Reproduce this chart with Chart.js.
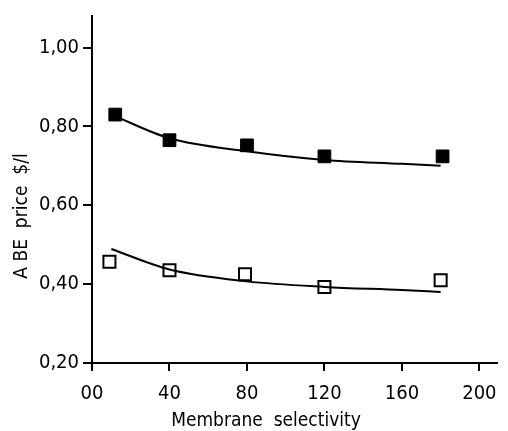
<!DOCTYPE html>
<html>
<head>
<meta charset="utf-8">
<script src="https://cdn.jsdelivr.net/npm/chart.js@4"></script>
<style>
  html, body { margin: 0; padding: 0; background: #fff; }
  #wrap { width: 508px; height: 431px; }
</style>
</head>
<body>
<div id="wrap"><canvas id="chart"></canvas></div>
<script>
// measured points (membrane selectivity vs ABE price)
const filledX = [12, 40, 80, 120, 181];
const filledY = [0.83, 0.765, 0.752, 0.724, 0.724];
const openX = [9, 40, 79, 120, 180];
const openY = [0.457, 0.435, 0.425, 0.393, 0.41];

// fitted curves
const filledCurveX = [10, 40, 80, 120, 160, 180];
const filledCurveY = [0.83, 0.77, 0.737, 0.715, 0.705, 0.70];
const openCurveX = [10, 40, 80, 120, 160, 180];
const openCurveY = [0.489, 0.437, 0.407, 0.393, 0.385, 0.38];

const xTicks = [0, 40, 80, 120, 160, 200];
const xTickLabels = ['00', '40', '80', '120', '160', '200'];
const yTicks = [0.2, 0.4, 0.6, 0.8, 1.0];
const yTickLabels = ['0,20', '0,40', '0,60', '0,80', '1,00'];

const xTitle = 'Membrane  selectivity';
const yTitle = 'A BE  price  $/l';

const FONT = "'DejaVu Sans Condensed', 'DejaVu Sans', sans-serif";

const pts = (xs, ys) => xs.map((x, i) => ({ x: x, y: ys[i] }));

// axis titles placed by hand, relative to the chart area
const axisTitles = {
  id: 'axisTitles',
  afterDraw(chart) {
    const { ctx, chartArea } = chart;
    ctx.save();
    ctx.fillStyle = '#000';
    ctx.font = '19px ' + FONT;
    ctx.textAlign = 'center';
    ctx.textBaseline = 'middle';
    ctx.fillText(xTitle, chartArea.left + 174, chartArea.bottom + 58);
    ctx.translate(chartArea.left - 70, chartArea.top + 200);
    ctx.rotate(-Math.PI / 2);
    ctx.fillText(yTitle, 0, 0);
    ctx.restore();
  }
};

new Chart(document.getElementById('chart'), {
  type: 'scatter',
  data: {
    datasets: [
      {
        data: pts(filledCurveX, filledCurveY),
        showLine: true, cubicInterpolationMode: 'monotone', pointRadius: 0,
        borderColor: '#000', borderWidth: 2
      },
      {
        data: pts(openCurveX, openCurveY),
        showLine: true, cubicInterpolationMode: 'monotone', pointRadius: 0,
        borderColor: '#000', borderWidth: 2
      },
      {
        data: pts(filledX, filledY),
        pointStyle: 'rect', pointRadius: 9,
        backgroundColor: '#000', borderColor: '#000', borderWidth: 1
      },
      {
        data: pts(openX, openY),
        pointStyle: 'rect', pointRadius: 8.5,
        backgroundColor: '#fff', borderColor: '#000', borderWidth: 2
      }
    ]
  },
  options: {
    responsive: true,
    maintainAspectRatio: false,
    animation: false,
    layout: { padding: { top: 13, right: 0, left: 0, bottom: 0 } },
    plugins: { legend: { display: false }, tooltip: { enabled: false } },
    scales: {
      x: {
        type: 'linear', min: 0, max: 209,
        afterBuildTicks: s => { s.ticks = xTicks.map(v => ({ value: v })); },
        afterFit: s => { s.height = 68; },
        grid: { drawOnChartArea: false, drawTicks: true, tickLength: 8, color: '#000', lineWidth: 2 },
        border: { display: true, color: '#000', width: 2 },
        ticks: {
          color: '#000', padding: 11, maxRotation: 0,
          font: { family: FONT, size: 20 },
          callback: v => xTickLabels[xTicks.indexOf(v)]
        }
      },
      y: {
        type: 'linear', min: 0.2, max: 1.08,
        afterBuildTicks: s => { s.ticks = yTicks.map(v => ({ value: v })); },
        afterFit: s => { s.width = 92; },
        grid: { drawOnChartArea: false, drawTicks: true, tickLength: 9, color: '#000', lineWidth: 2 },
        border: { display: true, color: '#000', width: 2 },
        ticks: {
          color: '#000', padding: 4,
          font: { family: FONT, size: 20 },
          callback: v => yTickLabels[yTicks.findIndex(t => Math.abs(t - v) < 1e-6)]
        }
      }
    }
  },
  plugins: [axisTitles]
});
</script>
</body>
</html>
